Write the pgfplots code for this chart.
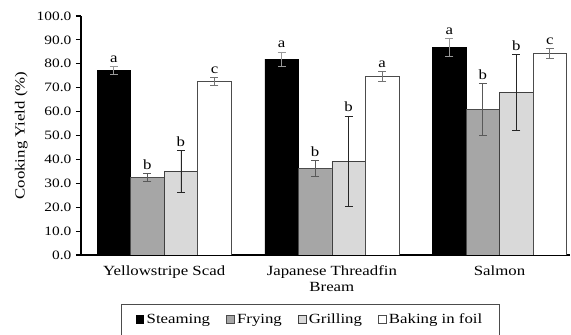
\documentclass[border=0pt]{standalone}
\usepackage{pgfplots}
\pgfplotsset{compat=1.18}
\usepackage{fontspec}
\setmainfont{Liberation Serif}[FakeStretch=1.2]
\definecolor{frycol}{HTML}{A6A6A6}
\definecolor{grillcol}{HTML}{D9D9D9}
\begin{document}
\begin{tikzpicture}
\begin{axis}[
  scale only axis,
  width=366.75pt, height=179.25pt,
  xmin=-0.496, xmax=2.42,
  ymin=0, ymax=100,
  axis x line*=bottom, axis y line*=left,
  axis line style={line width=1.3pt, -},
  ytick={0,10,...,100},
  yticklabel style={font=\fontsize{9.6}{11}\selectfont, /pgf/number format/fixed, /pgf/number format/fixed zerofill, /pgf/number format/precision=1},
  /pgf/number format/assume math mode=true,
  tick style={black, line width=0.8pt},
  major tick length=3.75pt,
  ytick pos=left,
  tick align=outside,
  xtick={0,1,2},
  xticklabels={Yellowstripe Scad, {Japanese Threadfin\\Bream}, Salmon},
  xticklabel style={align=center, yshift=-1pt, font=\fontsize{10.5}{11.5}\selectfont},
  x tick style={draw=none},
  ylabel={Cooking Yield (\%)},
  label style={font=\fontsize{10.5}{11.5}\selectfont},
  bar width=0.2,
  legend style={at={(0.469,-0.205)}, anchor=north, legend columns=-1,
    draw=black!70, line width=0.8pt, font=\fontsize{10.5}{11.5}\selectfont,
    /tikz/every even column/.append style={column sep=10pt},
    inner xsep=11pt, inner ysep=5pt},
  legend image code/.code={\draw[#1, line width=0.4pt] (0pt,-2.4pt) rectangle (5.8pt,3.4pt);},
  every node near coord/.append style={font=\fontsize{10.5}{11.5}\selectfont, inner sep=2pt},
]
\addplot[ybar, bar shift=0pt, fill=black, draw=black,
  error bars/.cd, y dir=both, y explicit, error bar style={color=gray!80, line width=0.6pt}, error mark options={rotate=90, mark size=3pt, color=gray!80}]
  coordinates {(-0.3,77.3) +- (0,1.5) (0.7,82.0) +- (0,3.0) (1.7,86.8) +- (0,3.7)};
\addlegendentry{Steaming}
\addplot[ybar, bar shift=0pt, fill=frycol, draw=black!70,
  error bars/.cd, y dir=both, y explicit, error bar style={color=black!65, line width=0.6pt}, error mark options={rotate=90, mark size=3pt, color=black!65}]
  coordinates {(-0.1,32.6) +- (0,1.6) (0.9,36.3) +- (0,3.4) (1.9,61.0) +- (0,10.9)};
\addlegendentry{Frying}
\addplot[ybar, bar shift=0pt, fill=grillcol, draw=black!75,
  error bars/.cd, y dir=both, y explicit, error bar style={color=black!85, line width=0.6pt}, error mark options={rotate=90, mark size=3pt, color=black!85}]
  coordinates {(0.1,35.0) +- (0,8.8) (1.1,39.2) +- (0,19.0) (2.1,68.1) +- (0,15.8)};
\addlegendentry{Grilling}
\addplot[ybar, bar shift=0pt, fill=white, draw=black!70,
  error bars/.cd, y dir=both, y explicit, error bar style={color=black!55, line width=0.6pt}, error mark options={rotate=90, mark size=3pt, color=black!55}]
  coordinates {(0.3,72.6) +- (0,1.6) (1.3,74.8) +- (0,2.1) (2.3,84.4) +- (0,1.9)};
\addlegendentry{Baking in foil}
\addplot[draw=none, mark=none, forget plot, nodes near coords, point meta=explicit symbolic,
  nodes near coords align={above}]
  coordinates {
   (-0.3,79.2) [a] (-0.1,34.6) [b] (0.1,44.2) [b] (0.3,74.6) [c]
   (0.7,85.4) [a] (0.9,40.1) [b] (1.1,58.6) [b] (1.3,77.3) [a]
   (1.7,90.9) [a] (1.9,72.3) [b] (2.1,84.3) [b] (2.3,86.7) [c]
  };
\coordinate (O) at (rel axis cs:0,0);
\end{axis}
\pgfresetboundingbox
\useasboundingbox ([xshift=-60.75pt,yshift=-60pt]O) rectangle ([xshift=367.5pt,yshift=191.25pt]O);
\end{tikzpicture}
\end{document}
